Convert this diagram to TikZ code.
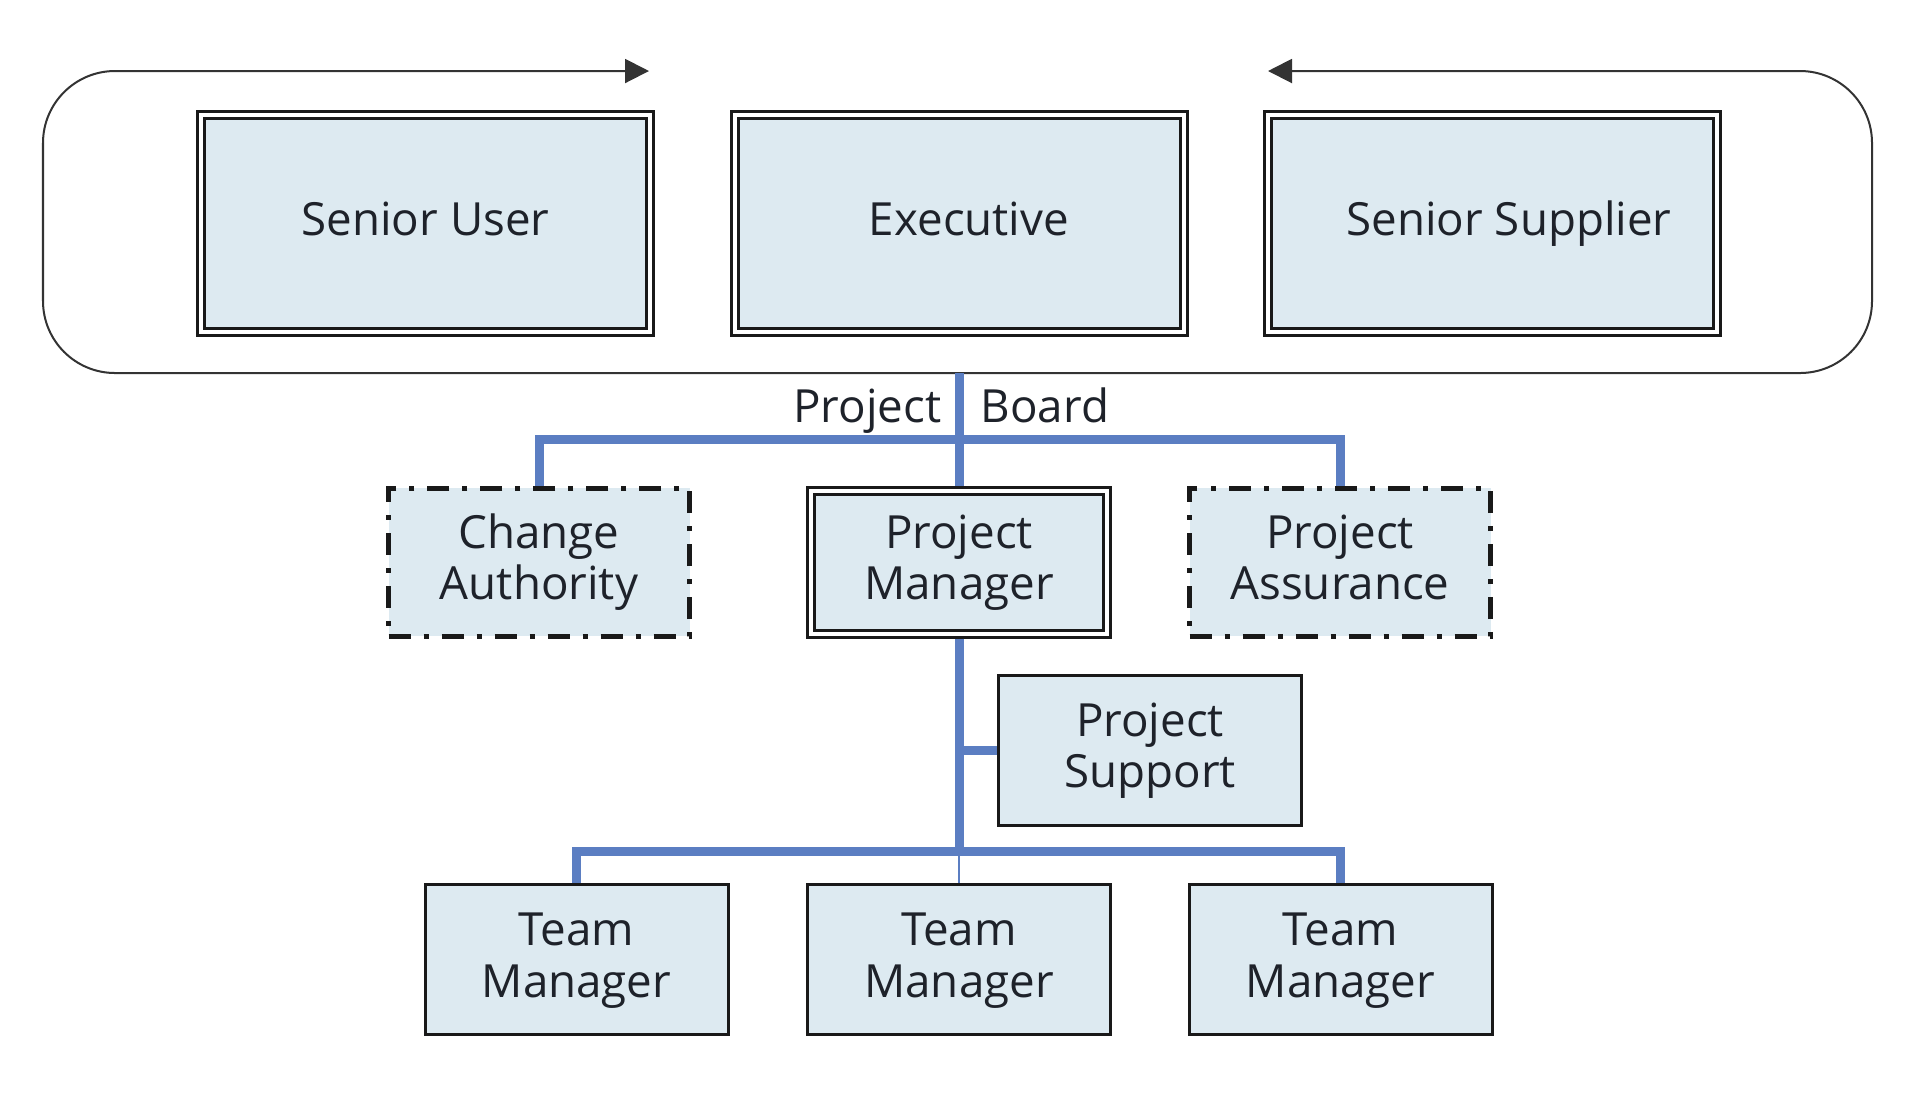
\documentclass[tikz,border=0pt]{standalone}
\usepackage{fontspec}
\setmainfont{Open Sans}
\usepackage{xcolor}
\usepackage{tikz}
\usetikzlibrary{arrows.meta}
\definecolor{boxfill}{RGB}{221,234,241}
\definecolor{linkblue}{RGB}{91,126,194}
\definecolor{txt}{RGB}{30,34,42}

\begin{document}
\begin{tikzpicture}[y=-1cm, every node/.style={font=\fontsize{13}{14.6}\selectfont, text=txt, align=center, inner sep=0pt, text depth=0.11cm},
	box/.style={draw=black!90, fill=boxfill, line width=0.03cm, minimum width=3.03cm, minimum height=1.50cm, text height=0.865cm},
	dbl/.style={box, double=white, double distance=0.04cm, outer sep=0.05cm, minimum width=2.96cm, minimum height=1.43cm},
	dashdot/.style={box, line width=0.05cm, dash pattern=on 0.22cm off 0.13cm on 0.05cm off 0.13cm, minimum width=3.01cm, minimum height=1.48cm},
	board/.style={dbl, minimum width=4.49cm, minimum height=2.17cm, text height=0.35cm},
	link/.style={draw=linkblue, line width=0.09cm}]
\useasboundingbox (0,0) rectangle (19.14,11.10);
%board frame
\draw[black!80, line width=0.02cm, rounded corners=0.72cm, {Triangle[length=0.24cm,width=0.24cm]}-{Triangle[length=0.24cm,width=0.24cm]}] (12.68,0.71) -- (18.72,0.71) -- (18.72,3.73) -- (0.43,3.73) -- (0.43,0.71) -- (6.49,0.71);
\node[board] (su) at (4.255,2.235) {Senior User};
\node[board] (ex) at (9.59,2.235) {\hspace*{0.2cm}Executive};
\node[board] (ss) at (14.92,2.235) {\hspace*{0.34cm}Senior Supplier};
\node[anchor=base east] (pbl) at (9.42,4.22) {Project};
\node[anchor=base west] (pbr) at (9.80,4.22) {Board};
%second row
\node[dashdot] (ca) at (5.39,5.62) {Change\\Authority};
\node[dbl] (pm) at (9.59,5.62) {Project\\Manager};
\node[dashdot] (pa) at (13.40,5.62) {Project\\Assurance};
\node[box] (ps) at (11.50,7.50) {Project\\Support};
%team managers
\node[box] (tm1) at (5.765,9.595) {Team\\Manager};
\node[box] (tm2) at (9.59,9.595) {Team\\Manager};
\node[box] (tm3) at (13.405,9.595) {Team\\Manager};
%links
\coordinate (pb) at (9.59,3.73);
\coordinate (split) at (9.59,8.51);
\draw[link] (pb) -- (pm);
\draw[link] (ca.north) -- ++(0,-0.46) -| (pa.north);
\draw[link] (pm) -- (split);
\draw[link] (ps) -- (ps -| pm);
\draw[link] (tm1.north) |- (split) -| (tm3.north);
\draw[draw=linkblue, line width=0.015cm] (split) -- (tm2);
\end{tikzpicture}
\end{document}
